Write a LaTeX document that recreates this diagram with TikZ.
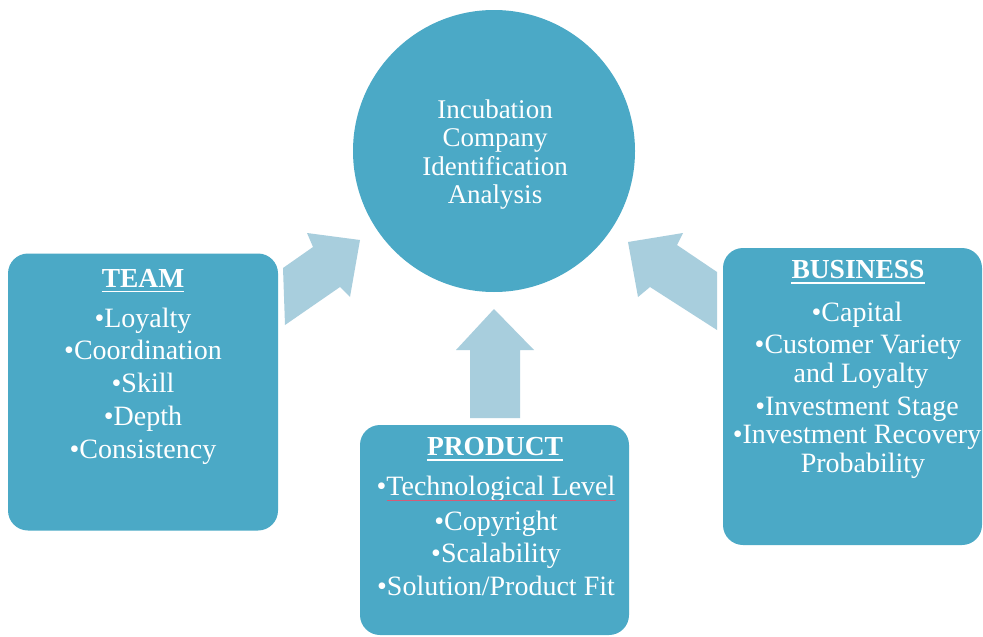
\documentclass[tikz,border=0pt]{standalone}
\usepackage{fontspec}
\setmainfont{Liberation Serif}
\definecolor{panelteal}{RGB}{75,169,198}
\definecolor{flowblue}{RGB}{168,206,221}
\definecolor{spellred}{RGB}{214,92,120}
\begin{document}
\begin{tikzpicture}[x=1pt,y=-1pt,
  panel/.style={rectangle, rounded corners=20pt, fill=panelteal, draw=none, inner sep=0pt},
  hub/.style={circle, fill=panelteal, draw=none, inner sep=0pt, minimum size=282pt},
  coretxt/.style={text=white, anchor=base, inner sep=0pt, font=\fontsize{27}{28}\selectfont},
  headtxt/.style={text=white, anchor=base, inner sep=0pt, font=\fontsize{27.5}{30}\selectfont\bfseries},
  itemtxt/.style={text=white, anchor=base, inner sep=0pt, font=\fontsize{28}{30}\selectfont},
  headrule/.style={white, line width=1.8pt},
  flow/.style={fill=flowblue, draw=none}]
\useasboundingbox (0,0) rectangle (983,637);
\fill[white] (0,0) rectangle (983,637);

% block arrows pointing into the hub
\fill[flow] (283,268) -- (313,247) -- (307,233) -- (360,240) -- (350,297) -- (340,287) -- (285,325) -- cycle;
\fill[flow] (717,272) -- (677,245) -- (683,233) -- (628,242) -- (638,297) -- (650,287) -- (717,330) -- cycle;
\fill[flow] (470,418) -- (470,350) -- (456,350) -- (494,309) -- (534,350) -- (520,350) -- (520,418) -- cycle;

% hub
\node[hub] (core) at (494,151) {};
\node[coretxt] (c1) at (495,118) {Incubation};
\node[coretxt] (c2) at (495,146) {Company};
\node[coretxt] (c3) at (495,175) {Identification};
\node[coretxt] (c4) at (495,203) {Analysis};

% team panel
\node[panel, minimum width=270pt, minimum height=277pt] (team) at (143,392) {};
\node[headtxt] (th) at (143,287) {TEAM};
\draw[headrule] ([yshift=-4.5pt]th.base west) -- ([yshift=-4.5pt]th.base east);
\node[itemtxt] (t1) at (143,327) {•Loyalty};
\node[itemtxt] (t2) at (143,359) {•Coordination};
\node[itemtxt] (t3) at (143,392) {•Skill};
\node[itemtxt] (t4) at (143,425) {•Depth};
\node[itemtxt] (t5) at (143,458) {•Consistency};

% product panel
\node[panel, minimum width=269pt, minimum height=210pt] (product) at (494.5,530) {};
\node[headtxt] (ph) at (495,455) {PRODUCT};
\draw[headrule] ([yshift=-5pt]ph.base west) -- ([yshift=-5pt]ph.base east);
\node[itemtxt] (p1) at (496,495) {•Technological Level};
\draw[spellred, line width=0.9pt] ([xshift=11pt,yshift=-5pt]p1.base west) -- ([yshift=-5pt]p1.base east);
\node[itemtxt] (p2) at (496,530) {•Copyright};
\node[itemtxt] (p3) at (496,562) {•Scalability};
\node[itemtxt] (p4) at (496,595) {•Solution/Product Fit};

% business panel
\node[panel, minimum width=259pt, minimum height=297pt] (business) at (852.5,396.5) {};
\node[headtxt] (bh) at (858,278) {BUSINESS};
\draw[headrule] ([yshift=-5pt]bh.base west) -- ([yshift=-5pt]bh.base east);
\node[itemtxt] (b1) at (857,321) {•Capital};
\node[itemtxt] (b2) at (858,353) {•Customer Variety};
\node[itemtxt] (b3) at (861,382) {and Loyalty};
\node[itemtxt] (b4) at (857,415) {•Investment Stage};
\node[itemtxt] (b5) at (857,443) {•Investment Recovery};
\node[itemtxt] (b6) at (863,472) {Probability};
\end{tikzpicture}
\end{document}
